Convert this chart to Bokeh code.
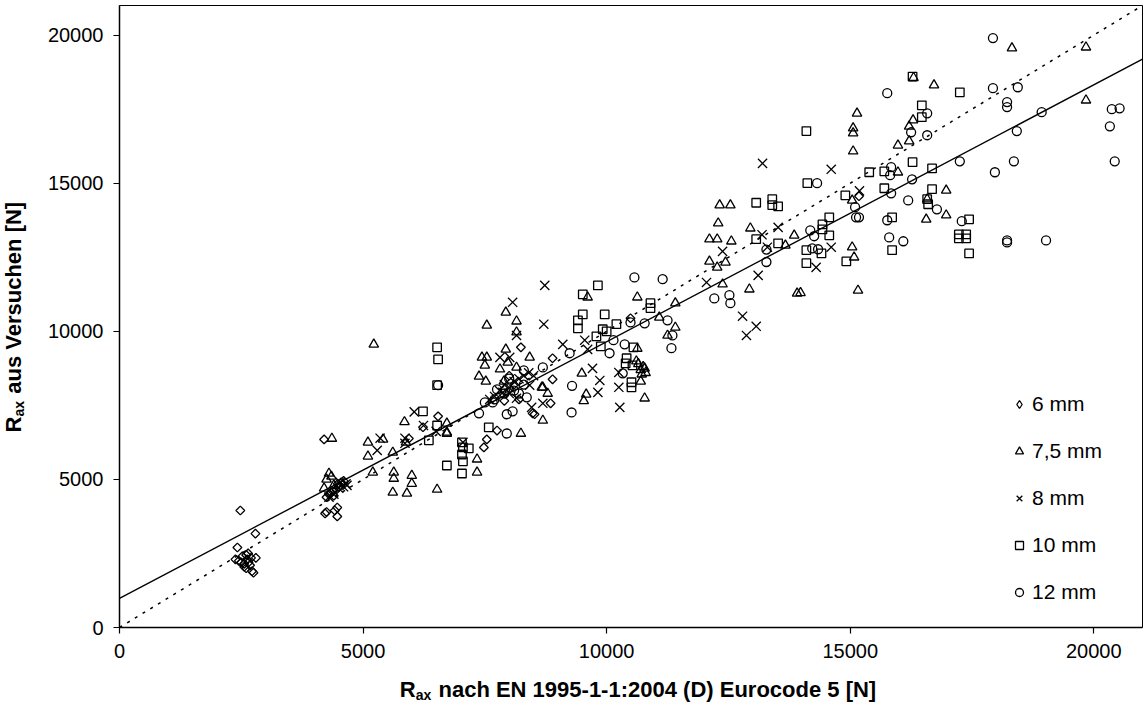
import math
from bokeh.plotting import figure
from bokeh.models import Range1d, FixedTicker, Label, Legend, LegendItem
from bokeh.embed import file_html
from bokeh.resources import INLINE

# ---- measured pull-out resistance: EN 1995-1-1 prediction vs. test ----
d6_x = [2480, 2790, 2420, 2380, 2450, 2520, 2560, 2600, 2620, 2650, 2680, 2700, 2720, 2750, 2560, 2500, 2640, 2800, 2600,
        4200, 4220, 4470, 4470, 4420, 4250, 4300, 4350, 4400, 4450, 4500, 4550, 4600, 4380, 4250, 4480,
        5940, 6230, 6540, 7480, 7540, 7750, 8240, 8890, 8890, 8850, 8480, 8520, 10490, 15180, 8000, 8200, 7900, 8100]
d6_y = [3950, 3170, 2700, 2300, 2250, 2400, 2150, 2450, 2300, 2200, 2100, 2350, 1900, 1850, 2050, 2200, 2500, 2350, 2000,
        6350, 3850, 4050, 3750, 3950, 3900, 4500, 4550, 4450, 4650, 4750, 4900, 4950, 4600, 4400, 4850,
        6380, 6760, 7130, 6080, 6350, 6650, 9460, 9090, 8380, 7570, 7230, 7200, 10440, 14560, 8500, 7700, 7650, 8200]

d75_x = [4300, 4250, 4360, 4200, 4400, 4350,
         5100, 5410, 5100, 5200, 5610, 5630, 5630, 5610, 5900, 6000, 6000, 6520, 6720, 5850, 5880, 5220,
         7930, 7540, 8150, 8150, 7440, 7540, 7500, 7930, 7970, 8420, 7810, 8150, 7380, 7520, 7890, 8690, 8790, 8690,
         8240, 6720, 6720, 7340, 7340,
         9610, 9490, 9580, 9530, 10630, 11410, 11410, 11250, 10630, 10610, 10780, 10700, 10780, 11080, 12380, 12930,
         12110, 12440, 12270, 13910, 13980, 8670,
         10700, 10750, 10800, 10650, 10720,
         12320, 12540, 12290, 12950, 12110, 12270, 12560, 15140, 15060, 15060, 15060, 15980, 16210, 16210, 16290,
         16300, 15980, 15040, 15040, 13850, 13670,
         18320, 19840, 19840, 16720, 16970, 16580, 16970, 16560, 15080, 15160]
d75_y = [5200, 5000, 6380, 4700, 4800, 5100,
         6250, 6350, 5780, 5240, 5910, 5240, 5030, 4560, 4530, 5130, 4860, 4660, 6590, 6940, 6250, 9560,
         10640, 10200, 10340, 9970, 9120, 9120, 8850, 9390, 8950, 9120, 8720, 8780, 8480, 8310, 8310, 8110, 7900, 6990,
         6550, 6890, 6550, 5680, 5240,
         11150, 8580, 7870, 7650, 11150, 10950, 10130, 9860, 9420, 8990, 8750, 8310, 7740, 10470, 11590, 11420,
         12360, 12330, 12160, 11280, 11300, 8110,
         8700, 8800, 8600, 8900, 8550,
         14260, 14260, 13650, 13480, 13110, 13110, 13040, 17360, 16860, 16690, 16080, 16280, 16420, 16920, 17130,
         18560, 15370, 14420, 12840, 13240, 12900,
         19560, 19590, 17800, 18310, 14760, 14460, 13920, 13780, 12500, 11380]

d8_x = [4530, 4670, 4500, 4650, 4400, 4300, 4600,
        5350, 5290, 5860, 6050, 6240, 6500, 5860,
        8730, 8070, 8710, 8150, 9100, 9550, 9610, 9710, 9860, 9820, 10250, 10250, 10270, 13110, 12790, 13070, 12870,
        12050, 7810, 8010, 8420, 8690, 8460, 7050, 8150, 7870,
        7700, 7800, 7900, 8000, 8100, 8200, 8300, 7600, 8000, 8400, 8500,
        13200, 14610, 15190, 13190, 13520, 13300, 14610, 12380, 14300]
d8_y = [4900, 4800, 4700, 4850, 4500, 4400, 4750,
        6390, 5980, 6390, 7280, 6820, 6620, 6220,
        11550, 10980, 10240, 9860, 9560, 9700, 9390, 8750, 8340, 7940, 8610, 8110, 7430, 11890, 10510, 10170, 9860,
        11650, 9120, 9120, 8180, 7570, 7430, 6250, 7740, 7940,
        7800, 8000, 8200, 8100, 8300, 8400, 8500, 7700, 7900, 8600, 8500,
        15670, 15470, 14740, 13260, 13510, 12840, 12840, 12700, 12160]

d10_x = [6520, 6540, 6520, 6230, 6520, 6350, 7030, 7050, 7170, 7030, 7050, 6720, 7030, 7580,
         9820, 9510, 9510, 9410, 9410, 9960, 9920, 10000, 9790, 9880, 10200, 10900, 10900, 10550, 10410, 10390,
         10510, 10510, 10530,
         14100, 14120, 13070, 13400, 13400, 13520, 13070, 13520, 14570, 14430, 14430, 14570, 14100, 14410, 14900,
         15390, 15700, 15700, 15860, 16280, 16280, 15860,
         17250, 16470, 16470, 16680, 16680, 16580, 16600, 17440, 17230, 17380, 17230, 17380, 17440, 14100, 14920]
d10_y = [9460, 9050, 8180, 7300, 6820, 6320, 6250, 6080, 6050, 5840, 5610, 5470, 5200, 6760,
         11550, 11250, 10570, 10370, 10100, 10570, 10070, 10000, 9830, 9490, 10240, 10950, 10780, 9460, 9090, 8920,
         8280, 8110, 8850,
         16760, 15000, 14340, 14460, 14260, 14220, 13110, 12970, 13850, 13610, 13440, 13240, 12740, 12630, 14590,
         15370, 15400, 14830, 13850, 15710, 18600, 12740,
         18070, 17630, 17230, 15500, 14800, 14460, 14290, 13780, 13140, 13270, 13270, 13140, 12630, 12300, 12360]

d12_x = [6540,
         10570, 11150, 9290, 9280, 10060, 10140, 10370, 10780, 10490, 11330, 11350, 11250, 12210, 12520, 12540, 13280,
         10330, 9240, 8690, 8360, 8070, 7950, 7660, 7750, 7950, 7380, 8300,
         7700, 7900, 8100, 8300, 7500, 8000, 8200,
         15760, 14320, 15840, 15820, 15840, 16270, 16250, 16190, 15100, 15120, 15180, 15760, 15800, 16090, 14180,
         14260, 14220, 14340, 13280,
         17930, 17930, 18440, 18220, 18220, 18930, 20370, 20530, 20330, 20430, 18420, 18360, 17250, 17970, 16580, 16580,
         16780, 17290, 18220, 18220, 19020]
d12_y = [8180,
         11820, 11760, 8160, 7260, 9260, 9700, 9560, 10270, 10300, 9430, 9860, 10370, 11110, 11220, 10950, 12340,
         8580, 9260, 8780, 7770, 7300, 7200, 7600, 8040, 6550, 7230, 8680,
         7700, 7900, 8000, 8200, 7600, 8400, 7900,
         18040, 15000, 15540, 15270, 14660, 15130, 16720, 14420, 14190, 13850, 13850, 13750, 13170, 13040, 13410,
         13210, 12800, 12770, 12760,
         19900, 18210, 18240, 17740, 17570, 17400, 17500, 17530, 16920, 15740, 16760, 15740, 15740, 15370, 16620, 17360,
         14120, 13720, 13070, 13000, 13070]

series_labels = ["6 mm", "7,5 mm", "8 mm", "10 mm", "12 mm"]

# regression line of test results on prediction
fit_intercept = 980
fit_slope = 0.867

axis_min, axis_max = 0, 21000
tick_values = [0, 5000, 10000, 15000, 20000]

FONT = "Liberation Sans"

p = figure(width=1144, height=708, x_range=Range1d(axis_min, axis_max), y_range=Range1d(axis_min, axis_max),
           output_backend="svg", toolbar_location=None,
           min_border_left=119, min_border_right=2, min_border_top=5, min_border_bottom=81)
p.background_fill_color = "white"
p.border_fill_color = "white"
p.outline_line_color = "black"
p.outline_line_width = 1
p.xgrid.visible = False
p.ygrid.visible = False

for ax in (p.xaxis[0], p.yaxis[0]):
    ax.ticker = FixedTicker(ticks=tick_values)
    ax.minor_tick_line_color = None
    ax.major_tick_in = 0
    ax.major_tick_out = 6
    ax.major_tick_line_color = "black"
    ax.major_tick_line_width = 1.2
    ax.axis_line_color = "black"
    ax.axis_line_width = 1.5
    ax.major_label_text_font = FONT
    ax.major_label_text_font_size = "20px"
    ax.major_label_text_color = "black"
    ax.major_label_standoff = 10

# 1:1 reference line and regression line
p.line([axis_min, axis_max], [axis_min, axis_max], line_color="black", line_width=1.5, line_dash="3 6")
p.line([axis_min, axis_max], [fit_intercept + fit_slope * axis_min, fit_intercept + fit_slope * axis_max],
       line_color="black", line_width=1.4)

mk = dict(fill_color=None, line_color="black", line_width=1.3)
r6 = p.scatter(d6_x, d6_y, marker="square", size=6.2, angle=math.pi / 4, **mk)
r75 = p.scatter(d75_x, d75_y, marker="triangle", size=9.5, **mk)
r8 = p.scatter(d8_x, d8_y, marker="x", size=13, **mk)
r10 = p.scatter(d10_x, d10_y, marker="square", size=8.5, **mk)
r12 = p.scatter(d12_x, d12_y, marker="circle", size=9, **mk)
# key symbol for the 6 mm series (legend glyphs are drawn unrotated, so use a diamond there)
r6_key = p.scatter([float("nan")], [float("nan")], marker="diamond", size=9, **mk)

legend = Legend(items=[LegendItem(label=lab, renderers=[r]) for lab, r in
                       zip(series_labels, [r6_key, r75, r8, r10, r12])],
                location=(890, 23), glyph_width=20, glyph_height=20, label_standoff=3, spacing=23,
                padding=0, margin=0, border_line_alpha=0, background_fill_alpha=0,
                label_text_font=FONT, label_text_font_size="21px", label_text_color="black")
p.add_layout(legend)

# axis titles: "R" with subscript "ax"; labels live in the side panels so they are not clipped
BOLD_W = {" ": 278, "\u00a0": 278, "\u2009": 200, "a": 556, "c": 556, "h": 611, "n": 611, "u": 611, "s": 556,
          "V": 667, "e": 556, "r": 389, "[": 333, "N": 722, "]": 333, "E": 667, "1": 556, "9": 556, "5": 556,
          "-": 333, ":": 333, "2": 556, "0": 556, "4": 556, "(": 333, "D": 722, ")": 333, "o": 611, "d": 611,
          "R": 722, "x": 556}


def text_w(s, size):
    return sum(BOLD_W.get(ch, 556) for ch in s) * size / 1000.0


TITLE_SIZE = 22
SUB_SIZE = 14
SUB_DROP = 5
SUB_GAP = "\u00a0\u00a0\u00a0\u2009"   # room for the subscript plus a word space
frame_w = 1144 - 119 - 2
frame_h = 708 - 5 - 81
X_TITLE_BASE = -62      # baseline below the frame bottom
Y_TITLE_BASE = -106     # baseline left of the frame
X_TITLE_SHIFT = 7


def title_label(text, size, dx, dy, angle=0.0):
    return Label(x=axis_min, y=axis_min, x_units="data", y_units="data", x_offset=dx, y_offset=dy,
                 angle=angle, text=text, text_font=FONT, text_font_style="bold", text_font_size=f"{size}px",
                 text_color="black", text_align="left", text_baseline="alphabetic")


def add_title(rest, vertical, side):
    main = "R" + SUB_GAP + rest
    total = text_w(main, TITLE_SIZE)
    if vertical:
        start = (frame_h - total) / 2
    else:
        start = (frame_w - total) / 2 + X_TITLE_SHIFT
    sub_pos = start + text_w("R", TITLE_SIZE)
    if vertical:
        main_lab = title_label(main, TITLE_SIZE, Y_TITLE_BASE, start, math.pi / 2)
        sub_lab = title_label("ax", SUB_SIZE, Y_TITLE_BASE + SUB_DROP, sub_pos, math.pi / 2)
    else:
        main_lab = title_label(main, TITLE_SIZE, start, X_TITLE_BASE)
        sub_lab = title_label("ax", SUB_SIZE, sub_pos, X_TITLE_BASE - SUB_DROP)
    p.add_layout(main_lab, side)
    p.add_layout(sub_lab, side)


add_title("nach EN 1995-1-1:2004 (D) Eurocode 5 [N]", vertical=False, side="below")
add_title("aus Versuchen [N]", vertical=True, side="left")

open("out.html", "w").write(file_html(p, INLINE))
